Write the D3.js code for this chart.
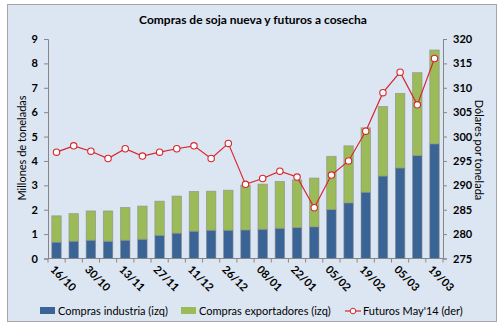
<!DOCTYPE html>
<html>
<head>
<meta charset="utf-8">
<script src="https://cdn.jsdelivr.net/npm/d3@7"></script>
<style>
  body { margin: 0; background: #ffffff; }
  text { font-family: Lato, "Open Sans", sans-serif; }
</style>
</head>
<body>
<svg id="chart" width="503" height="331"></svg>
<script>
// Datos
var fechas = ["16/10", "23/10", "30/10", "06/11", "13/11", "20/11", "27/11", "04/12", "11/12", "18/12",
    "26/12", "02/01", "08/01", "15/01", "22/01", "29/01", "05/02", "12/02", "19/02", "26/02",
    "05/03", "12/03", "19/03"];
var industria = [0.67, 0.71, 0.75, 0.71, 0.75, 0.79, 0.95, 1.04, 1.12, 1.16, 1.16, 1.17, 1.20, 1.24,
    1.27, 1.30, 2.01, 2.28, 2.72, 3.38, 3.71, 4.22, 4.70];
var totales = [1.75, 1.84, 1.95, 1.95, 2.09, 2.15, 2.35, 2.56, 2.75, 2.76, 2.80, 3.01, 3.05, 3.16,
    3.22, 3.30, 4.19, 4.62, 5.36, 6.23, 6.77, 7.62, 8.55];
var exportadores = totales.map(function(t, i) { return +(t - industria[i]).toFixed(2); });
var futuros = [296.8, 298.1, 297.0, 295.5, 297.5, 296.0, 296.8, 297.5, 298.1, 295.5, 298.6, 290.2,
    291.4, 292.9, 291.7, 285.4, 292.1, 295.0, 301.1, 309.0, 313.2, 306.5, 316.0];
var ticksIzq = [0, 1, 2, 3, 4, 5, 6, 7, 8, 9];
var ticksDer = [275, 280, 285, 290, 295, 300, 305, 310, 315, 320];

var azul = "#3a6496", verde = "#9bbb59", rojo = "#d7262e";

var svg = d3.select("#chart");

// Fondo del grafico
svg.append("rect")
    .attr("x", 7.5).attr("y", 4.5)
    .attr("width", 489).attr("height", 317)
    .attr("fill", "#dce6f2")
    .attr("stroke", "#a6a6a6");

svg.append("text")
    .attr("x", 253).attr("y", 24)
    .attr("text-anchor", "middle")
    .style("font-size", "12px").style("font-weight", "bold")
    .text("Compras de soja nueva y futuros a cosecha");

var x0 = 48, x1 = 443, yTop = 39, yBot = 258.5;

var x = d3.scaleBand().domain(fechas).range([x0, x1]).paddingInner(0.45).paddingOuter(0.22);
var yIzq = d3.scaleLinear().domain([0, 9]).range([yBot, yTop]);
var yDer = d3.scaleLinear().domain([275, 320]).range([yBot, yTop]);

// Barras apiladas
var stackData = fechas.map(function(f, i) {
    return { fecha: f, industria: industria[i], exportadores: exportadores[i] };
});
var series = d3.stack().keys(["industria", "exportadores"])(stackData);
var colores = { industria: azul, exportadores: verde };

svg.append("g").selectAll("g")
    .data(series)
    .enter().append("g")
    .attr("fill", function(d) { return colores[d.key]; })
    .selectAll("rect")
    .data(function(d) { return d; })
    .enter().append("rect")
    .attr("x", function(d) { return x(d.data.fecha); })
    .attr("y", function(d) { return yIzq(d[1]); })
    .attr("width", x.bandwidth())
    .attr("height", function(d) { return yIzq(d[0]) - yIzq(d[1]); })
    .attr("stroke", "#8c8c8c")
    .attr("stroke-opacity", 0.7)
    .attr("stroke-width", 0.8);

// Ejes
var ejeIzq = svg.append("g")
    .attr("transform", "translate(" + x0 + ",0)")
    .call(d3.axisLeft(yIzq).tickValues(ticksIzq).tickSize(4).tickPadding(6));
var ejeDer = svg.append("g")
    .attr("transform", "translate(" + x1 + ",0)")
    .call(d3.axisRight(yDer).tickValues(ticksDer).tickSize(4).tickPadding(6));

// eje X con marcas entre categorias
var ejeX = svg.append("g").attr("transform", "translate(0," + yBot + ")");
ejeX.append("line")
    .attr("x1", x0).attr("x2", x1)
    .attr("stroke", "#868686");
var paso = x.step();
var limites = d3.range(fechas.length + 1).map(function(i) { return x0 + i * (x1 - x0) / fechas.length; });
ejeX.selectAll("line.marca")
    .data(limites)
    .enter().append("line")
    .attr("class", "marca")
    .attr("x1", function(d) { return d; }).attr("x2", function(d) { return d; })
    .attr("y1", 0).attr("y2", 4)
    .attr("stroke", "#868686");
ejeX.selectAll("text")
    .data(fechas.filter(function(d, i) { return i % 2 === 0; }))
    .enter().append("text")
    .attr("transform", function(d) {
        return "translate(" + (x(d) + x.bandwidth() / 2 - 4) + ",9) rotate(45)";
    })
    .style("font-size", "11px").style("font-weight", "bold")
    .attr("dy", "0.35em")
    .text(function(d) { return d; });

[ejeIzq, ejeDer].forEach(function(g) {
    g.select(".domain").attr("stroke", "#868686");
    g.selectAll(".tick line").attr("stroke", "#868686");
    g.selectAll(".tick text")
        .style("font-size", "11px").style("font-weight", "bold")
        .style("font-family", "Lato, sans-serif")
        .attr("fill", "#000");
});

svg.append("text")
    .attr("transform", "translate(26,148) rotate(-90)")
    .attr("text-anchor", "middle")
    .style("font-size", "11px")
    .text("Millones de toneladas");
svg.append("text")
    .attr("transform", "translate(475,150) rotate(90)")
    .attr("text-anchor", "middle")
    .style("font-size", "11px")
    .text("Dólares por tonelada");

// Linea de futuros
var linea = d3.line()
    .x(function(d, i) { return x(fechas[i]) + x.bandwidth() / 2; })
    .y(function(d) { return yDer(d); });
svg.append("path")
    .datum(futuros)
    .attr("d", linea)
    .attr("fill", "none")
    .attr("stroke", rojo)
    .attr("stroke-width", 1.2);
svg.append("g").selectAll("circle")
    .data(futuros)
    .enter().append("circle")
    .attr("cx", function(d, i) { return x(fechas[i]) + x.bandwidth() / 2; })
    .attr("cy", function(d) { return yDer(d); })
    .attr("r", 3.2)
    .attr("fill", "#ffffff")
    .attr("stroke", rojo)
    .attr("stroke-width", 1.1);

// Leyenda
var leyenda = svg.append("g").attr("transform", "translate(0,311)");
leyenda.append("rect").attr("x", 40).attr("y", -4).attr("width", 15).attr("height", 7).attr("fill", azul);
leyenda.append("text").attr("x", 58).attr("dy", "0.35em").style("font-size", "11px").text("Compras industria (izq)");
leyenda.append("rect").attr("x", 181).attr("y", -4).attr("width", 15).attr("height", 7).attr("fill", verde);
leyenda.append("text").attr("x", 199).attr("dy", "0.35em").style("font-size", "11px").text("Compras exportadores (izq)");
leyenda.append("line").attr("x1", 345).attr("x2", 361).attr("stroke", rojo).attr("stroke-width", 1.2);
leyenda.append("circle").attr("cx", 353).attr("cy", 0).attr("r", 2.8).attr("fill", "#fff").attr("stroke", rojo);
leyenda.append("text").attr("x", 363).attr("dy", "0.35em").style("font-size", "11px").text("Futuros May'14 (der)");
</script>
</body>
</html>
